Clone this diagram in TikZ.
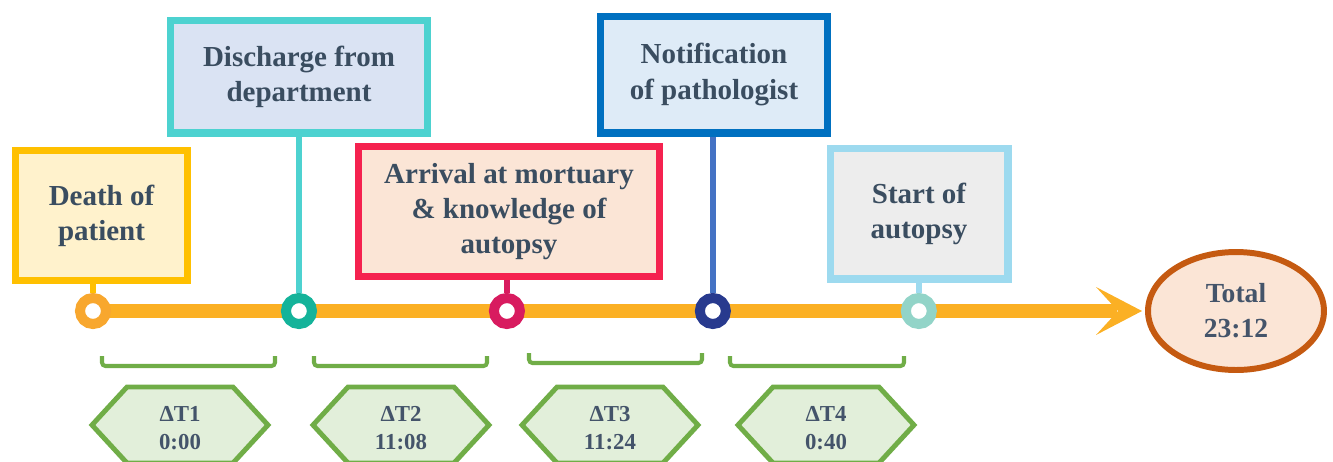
\documentclass[tikz,border=0pt]{standalone}
\usepackage{fontspec}
\setmainfont{Liberation Serif}
\usepackage{tikz}
\usetikzlibrary{positioning}
\usetikzlibrary{shapes.geometric}
\definecolor{linegold}{HTML}{FBB024}
\definecolor{textslate}{HTML}{3A4D60}
\definecolor{labelslate}{HTML}{44546A}
\definecolor{oneline}{HTML}{FFC000}
\definecolor{onefill}{HTML}{FFF2CC}
\definecolor{onedot}{HTML}{F8A72E}
\definecolor{twoline}{HTML}{4DD2D0}
\definecolor{twofill}{HTML}{DAE3F3}
\definecolor{twodot}{HTML}{14B39A}
\definecolor{threeline}{HTML}{F5224F}
\definecolor{threefill}{HTML}{FBE5D6}
\definecolor{threedot}{HTML}{D81B5F}
\definecolor{fourline}{HTML}{0070C0}
\definecolor{fourfill}{HTML}{DEEBF7}
\definecolor{fourstem}{HTML}{4472C4}
\definecolor{fourdot}{HTML}{283A8E}
\definecolor{fiveline}{HTML}{9DDAEF}
\definecolor{fivefill}{HTML}{EDEDED}
\definecolor{fivedot}{HTML}{92D4C8}
\definecolor{totalline}{HTML}{C55A11}
\definecolor{totalfill}{HTML}{FBE5D6}
\definecolor{spangreen}{HTML}{70AD47}
\definecolor{hexfill}{HTML}{E2EFDA}

\begin{document}
\begin{tikzpicture}[x=0.02cm,y=-0.02cm,node distance=4.12cm,on grid]
  \tikzset{event/.style={draw,rectangle,line width=4pt,inner sep=0pt,align=center,text=textslate,font=\fontsize{16.5}{20}\selectfont\bfseries}}
  \tikzset{dot/.style={circle,draw,fill=white,line width=5.7pt,minimum size=0.52cm,inner sep=0pt}}
  \tikzset{stem/.style={line width=3.8pt}}
  \tikzset{span/.style={draw=spangreen,line width=2.3pt,rounded corners=2pt}}
  \tikzset{hexbox/.style={draw=spangreen,fill=hexfill,line width=2.8pt,line join=miter}}
  \tikzset{hexlabel/.style={align=center,text=labelslate,font=\fontsize{13}{16}\selectfont\bfseries}}
  \useasboundingbox (0,0) rectangle (1333,461);
  \coordinate (start) at (93,311);
  \coordinate (head) at (1142,311);
  \draw[linegold,line width=8.5pt] (start) -- ([xshift=-0.5cm]head);
  \fill[linegold] (head) -- ++(-46,-24) -- ++(22,24) -- ++(-22,24) -- cycle;
  \node[dot,draw=onedot] (c1) at (start) {};
  \node[dot,draw=twodot] (c2) [right = of c1] {};
  \node[dot,draw=threedot] (c3) [right = 4.16cm of c2] {};
  \node[dot,draw=fourdot] (c4) [right = of c3] {};
  \node[dot,draw=fivedot] (c5) [right = of c4] {};
  \node[event,draw=oneline,fill=onefill,minimum width=3.44cm,minimum height=2.6cm] (b1) at (101.5,215.5) {Death of\\patient};
  \node[event,draw=twoline,fill=twofill,minimum width=5.16cm,minimum height=2.26cm] (b2) at (299,76.5) {Discharge from\\department};
  \node[event,draw=threeline,fill=threefill,minimum width=6.02cm,minimum height=2.6cm] (b3) at (509,211.5) {Arrival at mortuary\\\& knowledge of\\autopsy};
  \node[event,draw=fourline,fill=fourfill,minimum width=4.56cm,minimum height=2.34cm] (b4) at (714,74.5) {Notification\\of pathologist};
  \node[event,draw=fiveline,fill=fivefill,minimum width=3.56cm,minimum height=2.62cm] (b5) at (919,213.5) {Start of\\autopsy};
  \draw[stem,oneline] (c1.north) -- (c1.north |- b1.south);
  \draw[stem,twoline] (c2.north) -- (c2.north |- b2.south);
  \draw[stem,threedot] (c3.north) -- (c3.north |- b3.south);
  \draw[stem,fourstem] (c4.north) -- (c4.north |- b4.south);
  \draw[stem,fiveline] (c5.north) -- (c5.north |- b5.south);
  \node[ellipse,draw=totalline,fill=totalfill,line width=3.4pt,minimum width=3.52cm,minimum height=2.36cm,align=center,text=labelslate,font=\fontsize{15.7}{20}\selectfont\bfseries] (total) at (1236,311) {Total\\23:12};
  \foreach \xa/\xb/\yb in {102/275/356, 314/487/356, 529/702/353, 730/904/356}
    \draw[span] (\xa,\yb) -- (\xa,\yb+10) -- (\xb,\yb+10) -- (\xb,\yb);
  \foreach \cx/\k/\tm in {180/1/0:00, 401/2/11:08, 610/3/11:24, 826/4/0:40}{
    \draw[hexbox] ({\cx-88},425) -- ({\cx-53},387) -- ({\cx+53},387) -- ({\cx+88},425) -- ({\cx+53},463) -- ({\cx-53},463) -- cycle;
    \node[hexlabel] (dt\k) at (\cx,428) {ΔT\k\\\tm};
  }
\end{tikzpicture}
\end{document}
